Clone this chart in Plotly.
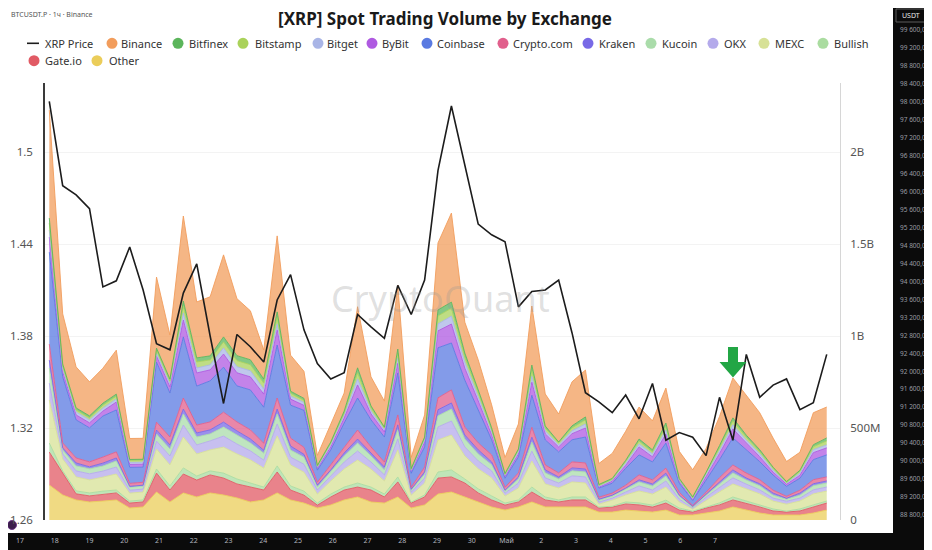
import plotly.graph_objects as go

# ---------------- data ----------------
points = list(range(59))

xrp_price = [1.533, 1.478, 1.472, 1.463, 1.412, 1.416, 1.438, 1.410, 1.375, 1.371,
             1.408, 1.427, 1.380, 1.336, 1.381, 1.373, 1.363, 1.4035, 1.420, 1.384,
             1.362, 1.352, 1.356, 1.394, 1.386, 1.3785, 1.413, 1.394, 1.4165, 1.488,
             1.530, 1.4915, 1.453, 1.446, 1.4415, 1.399, 1.409, 1.410, 1.4165, 1.382,
             1.343, 1.337, 1.330, 1.3415, 1.326, 1.349, 1.312, 1.317, 1.314, 1.302,
             1.340, 1.312, 1.368, 1.340, 1.348, 1.352, 1.332, 1.3365, 1.368]

# volumes in USD millions
binance = [587, 272, 223, 185, 190, 239, 114, 114, 386, 239,
           462, 304, 321, 446, 310, 266, 158, 413, 196, 147,
           54, 92, 98, 332, 158, 141, 348, 60, 120, 364,
           484, 168, 163, 125, 87, 136, 321, 174, 152, 239,
           255, 114, 136, 158, 174, 158, 190, 147, 147, 130,
           158, 217, 217, 201, 158, 109, 98, 174, 168]
bitfinex = [27, 11, 11, 11, 11, 11, 5, 5, 11, 11,
            27, 22, 22, 27, 27, 27, 22, 27, 11, 11,
            5, 5, 11, 27, 11, 5, 22, 5, 5, 33,
            33, 22, 16, 11, 5, 5, 27, 11, 5, 11,
            16, 5, 5, 5, 11, 11, 16, 5, 5, 5,
            11, 16, 11, 11, 5, 5, 5, 11, 16]
bitstamp = [38, 16, 11, 11, 16, 16, 11, 11, 16, 16,
            38, 33, 27, 33, 33, 33, 33, 38, 16, 11,
            5, 11, 11, 33, 16, 11, 27, 5, 11, 43,
            43, 27, 22, 11, 5, 11, 33, 16, 11, 16,
            22, 5, 5, 11, 16, 11, 22, 5, 5, 11,
            16, 22, 16, 11, 11, 5, 11, 16, 22]
bitget = [38, 16, 16, 16, 16, 16, 11, 11, 16, 16,
          38, 27, 27, 33, 33, 33, 27, 33, 16, 16,
          5, 11, 16, 33, 16, 11, 27, 5, 11, 38,
          43, 33, 22, 16, 5, 11, 33, 16, 11, 16,
          22, 5, 5, 11, 16, 16, 22, 5, 5, 11,
          16, 22, 16, 16, 11, 5, 11, 16, 16]
bybit = [82, 27, 27, 27, 27, 43, 16, 16, 33, 33,
         92, 71, 60, 71, 71, 71, 71, 82, 33, 27,
         11, 16, 27, 71, 33, 27, 54, 11, 27, 92,
         103, 65, 49, 27, 11, 16, 71, 33, 27, 33,
         49, 5, 11, 16, 43, 27, 49, 11, 5, 16,
         33, 49, 38, 27, 16, 11, 16, 38, 38]
coinbase = [500, 359, 207, 185, 223, 228, 87, 82, 326, 239,
            332, 212, 223, 245, 196, 217, 196, 288, 179, 201,
            65, 82, 130, 174, 147, 136, 228, 76, 109, 272,
            255, 255, 179, 82, 49, 87, 174, 136, 114, 120,
            141, 49, 54, 92, 109, 98, 136, 49, 27, 65,
            98, 147, 125, 98, 82, 54, 65, 109, 120]
cryptocom = [87, 27, 27, 27, 33, 33, 16, 16, 43, 43,
             60, 43, 43, 54, 49, 49, 38, 60, 43, 38,
             16, 27, 33, 49, 33, 27, 54, 11, 27, 65,
             71, 43, 38, 38, 16, 22, 54, 27, 22, 33,
             33, 11, 11, 16, 27, 22, 27, 16, 5, 11,
             22, 27, 27, 22, 16, 11, 16, 22, 22]
kraken = [43, 11, 16, 11, 16, 16, 5, 5, 22, 22,
          27, 22, 22, 27, 22, 22, 16, 27, 22, 16,
          11, 11, 16, 22, 16, 16, 27, 5, 11, 33,
          33, 22, 22, 16, 5, 11, 27, 16, 11, 16,
          16, 5, 5, 5, 11, 11, 16, 5, 5, 5,
          11, 16, 11, 11, 11, 5, 11, 11, 11]
kucoin = [82, 22, 27, 27, 27, 33, 16, 16, 38, 38,
          60, 43, 38, 49, 49, 43, 38, 54, 38, 38,
          16, 22, 33, 43, 33, 27, 49, 11, 22, 60,
          65, 43, 38, 33, 11, 22, 49, 27, 22, 27,
          27, 11, 11, 16, 22, 22, 27, 16, 5, 11,
          22, 27, 22, 22, 16, 11, 16, 22, 22]
okx = [92, 27, 33, 33, 33, 38, 16, 16, 43, 49,
       65, 49, 49, 60, 54, 49, 43, 65, 43, 43,
       22, 27, 38, 49, 38, 33, 60, 16, 27, 71,
       76, 49, 43, 38, 16, 27, 54, 33, 27, 33,
       33, 11, 11, 16, 27, 22, 33, 16, 5, 16,
       22, 33, 27, 22, 16, 16, 16, 22, 22]
mexc = [234, 65, 76, 71, 76, 87, 43, 43, 109, 114,
        168, 120, 114, 141, 136, 125, 103, 163, 114, 103,
        49, 71, 98, 125, 98, 71, 147, 38, 65, 174,
        190, 125, 109, 98, 38, 65, 141, 71, 65, 82,
        76, 16, 33, 38, 65, 60, 71, 33, 11, 38,
        60, 71, 65, 60, 43, 38, 43, 60, 54]
bullish = [49, 11, 16, 16, 16, 16, 11, 11, 22, 22,
           33, 22, 22, 27, 27, 22, 16, 33, 22, 22,
           11, 16, 16, 22, 16, 16, 27, 5, 11, 33,
           38, 22, 22, 22, 11, 11, 27, 16, 11, 16,
           16, 5, 5, 11, 11, 11, 16, 11, 5, 5,
           11, 16, 11, 11, 11, 5, 11, 11, 11]
gateio = [179, 120, 33, 33, 38, 38, 27, 27, 103, 65,
          103, 92, 98, 92, 76, 82, 54, 114, 54, 43,
          16, 43, 54, 54, 65, 33, 82, 27, 43, 87,
          82, 76, 49, 38, 27, 27, 54, 38, 27, 38,
          38, 22, 27, 33, 33, 27, 38, 27, 16, 27,
          33, 38, 38, 33, 22, 16, 22, 33, 38]
other = [190, 136, 109, 98, 103, 109, 65, 71, 152, 98,
         147, 125, 147, 136, 120, 98, 109, 147, 109, 92,
         65, 82, 109, 125, 98, 92, 125, 65, 82, 141,
         152, 125, 98, 71, 54, 71, 98, 71, 71, 71,
         71, 43, 43, 54, 49, 43, 54, 27, 27, 38,
         49, 71, 54, 38, 27, 27, 27, 38, 54]

exchange_names = ["Binance", "Bitfinex", "Bitstamp", "Bitget", "ByBit", "Coinbase",
                  "Crypto.com", "Kraken", "Kucoin", "OKX", "MEXC", "Bullish",
                  "Gate.io", "Other"]
exchange_values = [binance, bitfinex, bitstamp, bitget, bybit, coinbase,
                   cryptocom, kraken, kucoin, okx, mexc, bullish, gateio, other]
exchange_colors = ["#F29D5C", "#5BB55B", "#AAD25A", "#A9B5E6", "#AF5AE1", "#5A7AE1",
                   "#E15F8C", "#7869E6", "#AADCAA", "#B4AAEB", "#D7E196", "#AADCA0",
                   "#E15A64", "#EBCD5A"]

vol_tick_vals = [0, 500, 1000, 1500, 2000]
vol_tick_text = ["0", "500M", "1B", "1.5B", "2B"]
price_tick_vals = [1.26, 1.32, 1.38, 1.44, 1.5]
price_tick_text = ["1.26", "1.32", "1.38", "1.44", "1.5"]

# TradingView frame around the pasted chart
tv_price_vals = [99600, 99200, 98800, 98400, 98000, 97600, 97200, 96800, 96400, 96000,
                 95600, 95200, 94800, 94400, 94000, 93600, 93200, 92800, 92400, 92000,
                 91600, 91200, 90800, 90400, 90000, 89600, 89200, 88800]
tv_price_text = ["99 600,0", "99 200,0", "98 800,0", "98 400,0", "98 000,0", "97 600,0",
                 "97 200,0", "96 800,0", "96 400,0", "96 000,0", "95 600,0", "95 200,0",
                 "94 800,0", "94 400,0", "94 000,0", "93 600,0", "93 200,0", "92 800,0",
                 "92 400,0", "92 000,0", "91 600,0", "91 200,0", "90 800,0", "90 400,0",
                 "90 000,0", "89 600,0", "89 200,0", "88 800,0"]
tv_day_vals = [17, 18, 19, 20, 21, 22, 23, 24, 25, 26, 27, 28, 29, 30, 31, 32, 33, 34, 35, 36, 37]
tv_day_text = ["17", "18", "19", "20", "21", "22", "23", "24", "25", "26", "27", "28",
               "29", "30", "Май", "2", "3", "4", "5", "6", "7"]

# ---------------- geometry helpers (window pixels -> paper) ----------------
# the page body adds an 8px margin, so the figure is 8px smaller than the window
OFF = 8
WIN_W, WIN_H = 932, 550
W, H = WIN_W - OFF, WIN_H - OFF
STRIP_TOP = 533            # window y where the dark time strip starts
BM = WIN_H - STRIP_TOP     # bottom margin of the figure
PH = H - BM


def fx(px):
    return (px - OFF) / W


def fy(py):
    return (PH - (py - OFF)) / PH


def rgba(hexc, a):
    h = hexc.lstrip("#")
    r, g, b = int(h[0:2], 16), int(h[2:4], 16), int(h[4:6], 16)
    return f"rgba({r},{g},{b},{a})"


FONT = "Noto Sans"
fig = go.Figure()

# stacked areas: bottom first
for name, vals, col in reversed(list(zip(exchange_names, exchange_values, exchange_colors))):
    fig.add_trace(go.Scatter(
        x=points, y=vals, name=name, mode="lines", stackgroup="vol",
        line=dict(color=col, width=0.9), fillcolor=rgba(col, 0.75),
        showlegend=False, xaxis="x", yaxis="y"))

fig.add_trace(go.Scatter(
    x=points, y=xrp_price, name="XRP Price", mode="lines",
    line=dict(color="#1c1c1c", width=1.6), showlegend=False,
    xaxis="x", yaxis="y2"))

# empty trace that carries the TradingView frame axes
fig.add_trace(go.Scatter(x=[], y=[], xaxis="x3", yaxis="y3", showlegend=False,
                         hoverinfo="skip"))

shapes = []
# dark TradingView strips
shapes.append(dict(type="rect", xref="paper", yref="paper", x0=fx(893), x1=1.02,
                   y0=fy(WIN_H + 4), y1=1.02, fillcolor="#0b0b0b", line=dict(width=0),
                   layer="below"))
shapes.append(dict(type="rect", xref="paper", yref="paper", x0=-0.02, x1=1.02,
                   y0=fy(WIN_H + 4), y1=fy(STRIP_TOP), fillcolor="#0b0b0b",
                   line=dict(width=0), layer="below"))
# USDT box
shapes.append(dict(type="rect", xref="paper", yref="paper", x0=fx(896), x1=fx(926),
                   y0=fy(22), y1=fy(9), fillcolor="#0b0b0b",
                   line=dict(color="#5c5c5c", width=1), layer="above"))
# TradingView logo circle (kept under the tick labels)
shapes.append(dict(type="circle", xref="paper", yref="paper", xsizemode="pixel",
                   ysizemode="pixel", xanchor=fx(12), yanchor=fy(525),
                   x0=-4.5, x1=4.5, y0=-4.5, y1=4.5, fillcolor="#3b1d4c",
                   line=dict(color="#6b3a86", width=1), layer="below"))
# green arrow
arrow_pts = [(728, 347), (738, 347), (738, 362), (746.5, 362), (733, 377.5),
             (719.5, 362), (728, 362)]
path = "M " + " L ".join(f"{fx(a):.5f},{fy(b):.5f}" for a, b in arrow_pts) + " Z"
shapes.append(dict(type="path", xref="paper", yref="paper", path=path,
                   fillcolor="#22a645", line=dict(width=0), layer="above"))

annotations = []
# custom legend
row1_y, row2_y = 43.3, 60.7
shapes.append(dict(type="line", xref="paper", yref="paper", x0=fx(27), x1=fx(39),
                   y0=fy(row1_y), y1=fy(row1_y), line=dict(color="#1c1c1c", width=1.6)))
annotations.append(dict(text="XRP Price", x=fx(43), y=fy(row1_y), xref="paper",
                        yref="paper", xanchor="left", yanchor="middle", showarrow=False,
                        font=dict(family=FONT, size=11, color="#333333")))
legend_pos = {
    "Binance": (112, 119, row1_y), "Bitfinex": (178, 187, row1_y),
    "Bitstamp": (243, 253, row1_y), "Bitget": (318, 325, row1_y),
    "ByBit": (372, 380, row1_y), "Coinbase": (427, 435, row1_y),
    "Crypto.com": (503, 511, row1_y), "Kraken": (588, 597, row1_y),
    "Kucoin": (651, 660, row1_y), "OKX": (713, 722, row1_y),
    "MEXC": (764, 773, row1_y), "Bullish": (823, 832, row1_y),
    "Gate.io": (34, 43, row2_y), "Other": (97, 107, row2_y),
}
for name, col in zip(exchange_names, exchange_colors):
    cx, tx, ry = legend_pos[name]
    shapes.append(dict(type="circle", xref="paper", yref="paper", xsizemode="pixel",
                       ysizemode="pixel", xanchor=fx(cx), yanchor=fy(ry),
                       x0=-5.5, x1=5.5, y0=-5.5, y1=5.5, fillcolor=col,
                       line=dict(width=0)))
    annotations.append(dict(text=name, x=fx(tx), y=fy(ry), xref="paper", yref="paper",
                            xanchor="left", yanchor="middle", showarrow=False,
                            font=dict(family=FONT, size=11, color="#333333")))

# watermark
annotations.append(dict(text="CryptoQuant", x=fx(440), y=fy(298), xref="paper",
                        yref="paper", xanchor="center", yanchor="middle",
                        showarrow=False,
                        font=dict(family=FONT, size=36, color="rgba(150,150,150,0.30)")))
# TradingView texts
annotations.append(dict(text="BTCUSDT.P · 1ч · Binance", x=fx(9), y=fy(14),
                        xref="paper", yref="paper", xanchor="left", yanchor="middle",
                        showarrow=False, font=dict(family=FONT, size=7, color="#555555")))
annotations.append(dict(text="USDT", x=fx(911), y=fy(15.5), xref="paper", yref="paper",
                        xanchor="center", yanchor="middle", showarrow=False,
                        font=dict(family=FONT, size=7, color="#e6e6e6")))

# TradingView axis ranges matched to their pixel positions
tv_x_range = [17 - (20 - OFF) / 34.75, 17 + (893 - 20) / 34.75]
tv_y_lo = 99600 - (STRIP_TOP - 30) / 17.96 * 400
tv_y_hi = 99600 + (30 - OFF) / 17.96 * 400

fig.update_layout(
    width=W, height=H, autosize=False,
    margin=dict(l=0, r=0, t=0, b=BM, pad=0),
    paper_bgcolor="white", plot_bgcolor="rgba(0,0,0,0)",
    font=dict(family=FONT, color="#444444"),
    title=dict(text="[XRP] Spot Trading Volume by Exchange", xref="container",
               yref="container", x=(445 - OFF) / W, y=1 - (19 - OFF) / H,
               xanchor="center", yanchor="middle",
               font=dict(family=FONT, size=17, color="#1a1a1a", weight=700)),
    showlegend=False,
    hovermode=False,
    xaxis=dict(domain=[fx(45), fx(840)], range=[-0.32, 58.99], showticklabels=False,
               showgrid=False, zeroline=False, showline=False, ticks=""),
    yaxis=dict(domain=[fy(520), fy(83)], range=[0, 2375], side="right", anchor="x",
               tickvals=vol_tick_vals, ticktext=vol_tick_text, showline=True,
               linecolor="#d6d6d6", linewidth=1, showgrid=True, gridcolor="#f3f3f3",
               zeroline=False, ticks="", ticklabelstandoff=7,
               tickfont=dict(family=FONT, size=11.5, color="#555555")),
    yaxis2=dict(overlaying="y", side="left", anchor="x", range=[1.26, 1.545],
                tickvals=price_tick_vals, ticktext=price_tick_text, showline=True,
                linecolor="#3a3a3a", linewidth=1.5, showgrid=False, zeroline=False,
                ticks="", ticklabelstandoff=8,
                tickfont=dict(family=FONT, size=11.5, color="#555555")),
    xaxis3=dict(domain=[0, fx(893)], anchor="free", position=0, range=tv_x_range,
                tickvals=tv_day_vals, ticktext=tv_day_text, showgrid=False,
                zeroline=False, showline=False, ticks="", ticklabelstandoff=2,
                tickfont=dict(family=FONT, size=7, color="#b2b5be")),
    yaxis3=dict(domain=[0, 1], anchor="free", position=fx(893), side="right",
                range=[tv_y_lo, tv_y_hi], tickvals=tv_price_vals, ticktext=tv_price_text,
                showgrid=False, zeroline=False, showline=False, ticks="",
                ticklabelstandoff=6,
                tickfont=dict(family=FONT, size=6.5, color="#9a9ca3")),
    shapes=shapes,
    annotations=annotations,
)

fig.write_html("out.html")
